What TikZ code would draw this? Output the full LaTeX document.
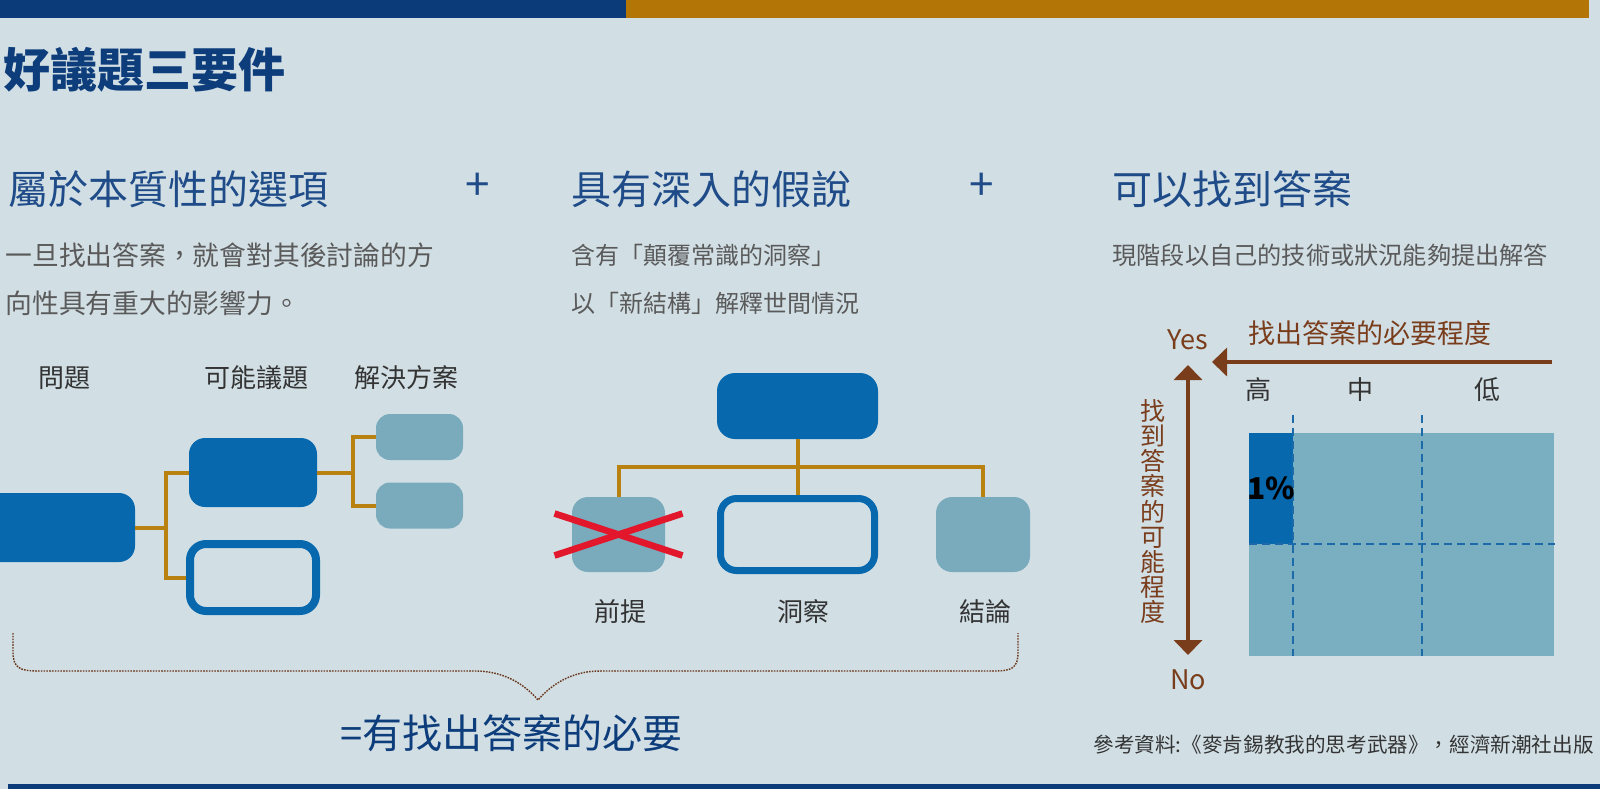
\documentclass[tikz,border=0pt]{standalone}
\usepackage{fontspec}
\setmainfont{Noto Sans CJK TC}
\usetikzlibrary{calc,arrows.meta,positioning}
\usepackage{xcolor}
\definecolor{pagebg}{HTML}{D1DFE5}
\definecolor{navybar}{HTML}{0B3B78}
\definecolor{goldbar}{HTML}{B47507}
\definecolor{titleblue}{HTML}{0E3D7B}
\definecolor{headblue}{HTML}{1F4C88}
\definecolor{boxblue}{HTML}{0768AD}
\definecolor{boxteal}{HTML}{79ABBD}
\definecolor{linkgold}{HTML}{B9810F}
\definecolor{crossred}{HTML}{E2172B}
\definecolor{axisbrown}{HTML}{7A3D1C}
\definecolor{greytext}{HTML}{5A5A5A}
\definecolor{darktext}{HTML}{333333}
\definecolor{gridteal}{HTML}{7AAEC1}
\definecolor{dashblue}{HTML}{1C6AA8}

\begin{document}
\begin{tikzpicture}[x=0.5pt, y=-0.5pt,
  >={Triangle[length=7.5pt, width=14pt]},
  solidbox/.style={fill=boxblue, rounded corners=8pt, inner sep=0pt},
  ringbox/.style={draw=boxblue, rounded corners=8pt, inner sep=0pt},
  softbox/.style={fill=boxteal, rounded corners=7pt, inner sep=0pt},
  goldlink/.style={draw=linkgold, line width=2pt},
  crossline/.style={draw=crossred, line width=3.3pt},
  headtext/.style={anchor=west, inner sep=0pt, text=headblue, font=\fontsize{20}{24}\selectfont},
  plussign/.style={inner sep=0pt, text=headblue, font=\fontsize{22}{24}\selectfont},
  labeltext/.style={inner sep=0pt, text=darktext, font=\fontsize{13}{15}\selectfont},
  axistext/.style={inner sep=0pt, text=axisbrown, font=\fontsize{13.5}{15}\selectfont},
  axisline/.style={draw=axisbrown, line width=2pt},
  gridline/.style={draw=dashblue, line width=1pt, dash pattern=on 4pt off 2.5pt},
  bracedots/.style={draw=axisbrown!85!black, line width=0.7pt, dash pattern=on 0.8pt off 0.6pt}]

  % Canvas
  \useasboundingbox (0,0) rectangle (1600,789);
  \clip (0,0) rectangle (1600,789);
  \fill[pagebg] (0,0) rectangle (1600,789);

  % Top and bottom bars
  \fill[navybar] (0,0) rectangle (626,18);
  \fill[goldbar] (626,0) rectangle (1589,18);
  \fill[navybar] (8,784) rectangle (1600,789);

  % Title
  \node[anchor=west, inner sep=0pt, text=titleblue, font=\fontsize{23.5}{28}\bfseries\selectfont] (title) at (3,70) {好議題三要件};

  % ==================== 1. THREE CONDITIONS ====================
  \node[headtext] (headA) at (8,189) {屬於本質性的選項};
  \node[plussign] (plusA) at (478,187) {+};
  \node[headtext] (headB) at (571,189) {具有深入的假說};
  \node[plussign] (plusB) at (982,187) {+};
  \node[headtext] (headC) at (1112,189) {可以找到答案};

  % baseline of the last line
  \node[anchor=base west, inner sep=0pt, align=left, text=greytext, font=\fontsize{13.4}{24}\selectfont] (noteA) at (5,313) {一旦找出答案，就會對其後討論的方\\向性具有重大的影響力。};
  \node[anchor=base west, inner sep=0pt, align=left, text=greytext, font=\fontsize{12}{24}\selectfont] (noteB) at (571,312) {含有「顛覆常識的洞察」\\以「新結構」解釋世間情況};
  \node[anchor=base west, inner sep=0pt, align=left, text=greytext, font=\fontsize{12.1}{24}\selectfont] (noteC) at (1112,264) {現階段以自己的技術或狀況能夠提出解答};

  % ==================== 2. ISSUE TREE ====================
  \node[labeltext] (lblproblem) at (64,378) {問題};
  \node[labeltext] (lblissue) at (256,378) {可能議題};
  \node[labeltext] (lblsolution) at (406,378) {解決方案};

  \node[solidbox, minimum width=82.5pt, minimum height=34.5pt] (problem) at (52.5,527.5) {};
  \node[solidbox, minimum width=64pt, minimum height=34.5pt] (issueA) at (253,472.5) {};
  \node[ringbox, line width=4pt, minimum width=63pt, minimum height=33.5pt] (issueB) at (253,577.5) {};
  \node[softbox, minimum width=43.5pt, minimum height=23pt] (solA) at (419.5,437) {};
  \node[softbox, minimum width=43.5pt, minimum height=23pt] (solB) at (419.5,505.5) {};

  \draw[goldlink] (problem.east) -- ++(31,0) coordinate (pj);
  \draw[goldlink] (issueA.west) -| (pj) |- (issueB.west);
  \draw[goldlink] (issueA.east) -- ++(36,0) coordinate (ij);
  \draw[goldlink] (solA.west) -| (ij) |- (solB.west);

  % ==================== 3. HYPOTHESIS TREE ====================
  \node[solidbox, minimum width=80.5pt, minimum height=33pt, rounded corners=9pt] (hypo) at (797.5,406) {};
  \node[softbox, minimum width=46.5pt, minimum height=37.5pt, rounded corners=8pt] (prem) at (618.5,534.5) {};
  \node[ringbox, line width=3.5pt, minimum width=77pt, minimum height=36pt] (insight) at (797.5,534.5) {};
  \node[softbox, minimum width=47pt, minimum height=37.5pt, rounded corners=8pt] (concl) at (983,534.5) {};

  \path (hypo.south) ++(0,28) coordinate (hj);
  \draw[goldlink] (hypo.south) -- (insight.north);
  \draw[goldlink] (prem.north) |- (hj) -| (concl.north);

  % Struck-out premise
  \draw[crossline] ($(prem.center)+(-64,-21)$) -- ($(prem.center)+(64,21)$);
  \draw[crossline] ($(prem.center)+(-64,21)$) -- ($(prem.center)+(64,-21)$);

  \node[labeltext] (lblprem) at (620,612) {前提};
  \node[labeltext] (lblinsight) at (803,612) {洞察};
  \node[labeltext] (lblconcl) at (985,612) {結論};

  % Brace under both trees
  \coordinate (braceL) at (13,633);
  \coordinate (braceR) at (1018,633);
  \coordinate (braceTip) at (538,700);
  \draw[bracedots] (braceL) -- (13,652) .. controls (13,668) and (20,671) .. (38,671)
    -- (475,671) .. controls (505,671) and (525,685) .. (braceTip)
    .. controls (551,685) and (571,671) .. (600,671)
    -- (994,671) .. controls (1012,671) and (1018,668) .. (1018,652) -- (braceR);

  \node[anchor=west, inner sep=0pt, text=titleblue, font=\fontsize{20}{24}\selectfont] (needline) at (340,733) {=有找出答案的必要};

  % ==================== 4. ANSWER MATRIX ====================
  \node[axistext] (yes) at (1188,340) {Yes};
  \node[axistext] (no) at (1188,680) {No};
  \coordinate (vtop) at (1188,365);
  \coordinate (vbot) at (1188,655);
  \draw[axisline, <->] (vtop) -- (vbot);
  \coordinate (hstart) at (1552,362);
  \coordinate (hend) at (1212,362);
  \draw[axisline, ->] (hstart) -- (hend);

  \node[axistext] (needlabel) at (1370,333) {找出答案的必要程度};
  \node[axistext, align=center, font=\fontsize{12.5}{12.6}\selectfont] (foundlabel) at (1153,511.5) {找\\到\\答\\案\\的\\可\\能\\程\\度};

  \node[labeltext] (colhigh) at (1258,390) {高};
  \node[labeltext] (colmid) at (1360,390) {中};
  \node[labeltext] (collow) at (1487,390) {低};

  \fill[gridteal] (1249,433) rectangle (1554,656);
  \fill[boxblue] (1249,433) rectangle (1293,544);
  \foreach \gx in {1293,1422} {
    \draw[gridline] (\gx,415) -- (\gx,656);
  }
  \draw[gridline] (1249,544) -- (1555,544);
  \node[inner sep=0pt, text=black, font=\fontsize{15}{15}\bfseries\selectfont] (onepct) at (1271,488) {1\%};

  % Source
  \node[anchor=east, inner sep=0pt, text=darktext, font=\fontsize{10.3}{12}\selectfont] (source) at (1594,745) {參考資料:《麥肯錫教我的思考武器》，經濟新潮社出版};

\end{tikzpicture}
\end{document}
